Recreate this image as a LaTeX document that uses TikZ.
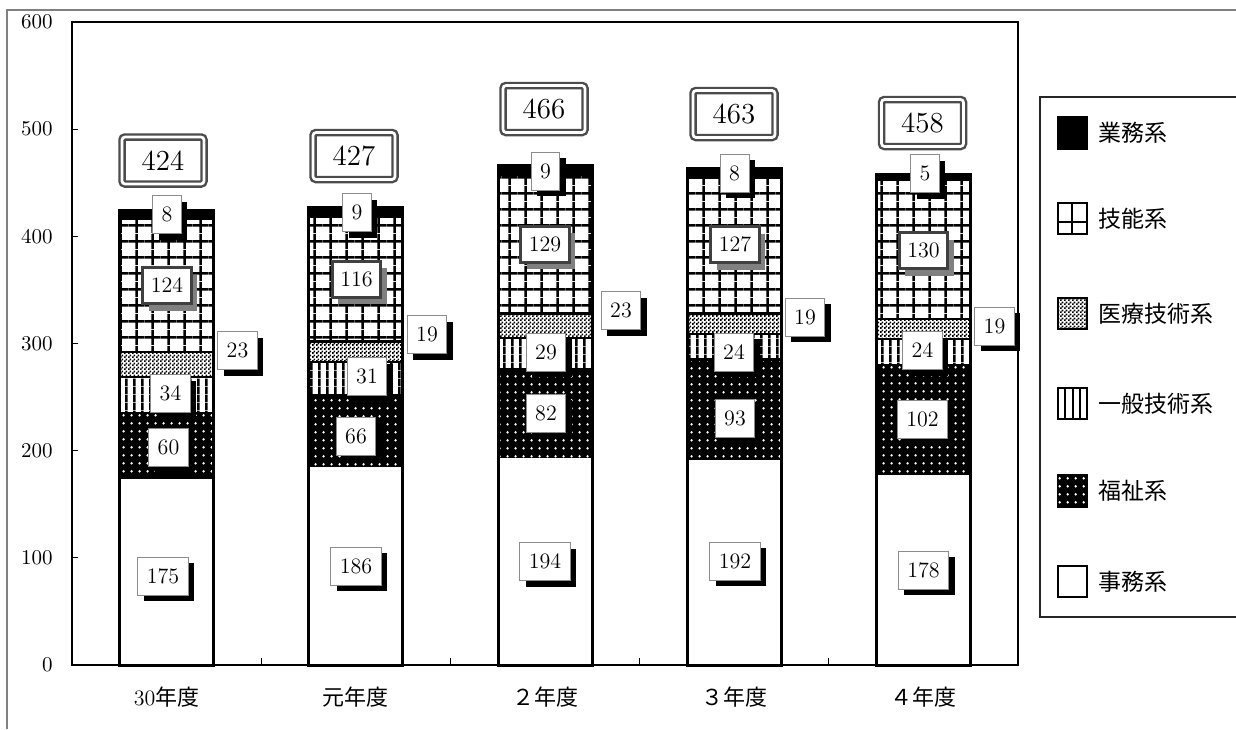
\documentclass[tikz,border=0pt]{standalone}
\usepackage{fontspec}
\newfontfamily\cjk{Noto Sans CJK JP}
\usetikzlibrary{patterns.meta,shadows}

\tikzdeclarepattern{
  name=skillgrid, type=uncolored,
  bounding box={(0pt,0pt) and (8.1pt,8pt)}, tile size={(8.1pt,8pt)},
  code={\draw[line width=1.25pt] (4pt,0pt) -- (4pt,8pt) (0pt,4pt) -- (8.1pt,4pt);}
}
\tikzdeclarepattern{
  name=vstripe, type=uncolored,
  bounding box={(0pt,0pt) and (4.2pt,4pt)}, tile size={(4.2pt,4pt)},
  code={\fill (0pt,0pt) rectangle (1.4pt,4pt);}
}
\tikzdeclarepattern{
  name=checker, type=uncolored,
  bounding box={(0pt,0pt) and (2pt,2pt)}, tile size={(2pt,2pt)},
  code={\fill (0pt,0pt) rectangle (1.05pt,1.05pt) (1pt,1pt) rectangle (2pt,2pt);}
}
\tikzdeclarepattern{
  name=wdots, type=uncolored,
  bounding box={(0pt,0pt) and (4pt,3.85pt)}, tile size={(4pt,3.85pt)},
  code={\fill (2pt,1.9pt) circle (0.72pt);}
}

\tikzset{
  seg/.style={draw=black, line width=1.2pt},
  jimu/.style={seg, fill=white},
  fukushi/.style={seg, fill=black, postaction={pattern=wdots, pattern color=white}},
  ippan/.style={seg, pattern=vstripe, pattern color=black},
  iryo/.style={seg, pattern=checker, pattern color=black},
  ginou/.style={seg, pattern=skillgrid, pattern color=black},
  gyomu/.style={seg, fill=black},
  labbase/.style={fill=white, font=\fontsize{11}{11}\selectfont, inner xsep=4.5pt, inner ysep=0pt, minimum height=19pt},
  lab/.style={labbase, draw=black!45, line width=0.4pt, general shadow={fill=black, shadow xshift=3pt, shadow yshift=-3pt}},
  glab/.style={labbase, draw=black!75, line width=1.5pt, inner xsep=4pt, minimum height=18pt, general shadow={fill=black!50, shadow xshift=3pt, shadow yshift=-3.5pt}},
  tot/.style={draw=black!70, double=white, double distance=1.35pt, line width=1.2pt, rounded corners=1.5pt, fill=white, font=\fontsize{14.5}{14.5}\selectfont, minimum width=41pt, minimum height=23.5pt, inner sep=0pt},
  ylab/.style={anchor=east, inner sep=0pt, font=\fontsize{10.5}{10.5}\selectfont},
  catlab/.style={inner sep=0pt, font=\fontsize{11}{11}\selectfont},
  legsym/.style={draw=black, line width=1.2pt, minimum width=14.5pt, minimum height=15.5pt, inner sep=0pt},
  legtxt/.style={anchor=west, inner sep=0pt, font=\cjk\fontsize{11.5}{11.5}\selectfont},
}

\begin{document}
\begin{tikzpicture}[x=0.5pt, y=-0.5pt]
\useasboundingbox (0,0) rectangle (1236,729);
\fill[white] (0,0) rectangle (1236,729);

% outer chart border
\draw[black!50, line width=0.75pt] (7,729) -- (7,10) -- (1236,10);

% bars
\foreach \cx/\va/\vb/\vc/\vd/\ve/\vf in {166.6/175/60/34/23/124/8, 355.8/186/66/31/19/116/9, 545/194/82/29/23/129/9, 734.2/192/93/24/19/127/8, 923.4/178/102/24/19/130/5}{
  \pgfmathsetmacro\ya{665-1.07167*\va}
  \pgfmathsetmacro\yb{\ya-1.07167*\vb}
  \pgfmathsetmacro\yc{\yb-1.07167*\vc}
  \pgfmathsetmacro\yd{\yc-1.07167*\vd}
  \pgfmathsetmacro\ye{\yd-1.07167*\ve}
  \pgfmathsetmacro\yf{\ye-1.07167*\vf}
  \pgfmathsetmacro\xl{\cx-47}
  \pgfmathsetmacro\xr{\cx+47}
  \path[jimu] (\xl,665) rectangle (\xr,\ya);
  \path[fukushi] (\xl,\ya) rectangle (\xr,\yb);
  \path[ippan] (\xl,\yb) rectangle (\xr,\yc);
  \path[iryo] (\xl,\yc) rectangle (\xr,\yd);
  \path[ginou] (\xl,\yd) rectangle (\xr,\ye);
  \path[gyomu] (\xl,\ye) rectangle (\xr,\yf);
  \draw[line width=1.5pt] (\xl,665) rectangle (\xr,\yf);
}

% plot frame and ticks
\draw[line width=1.1pt] (72,22) rectangle (1018,665);
\foreach \x in {261.2,450.4,639.6,828.8} \draw[line width=0.6pt] (\x,665) -- (\x,658);
\foreach \k in {1,...,5} \draw[line width=0.6pt] (72,665-107.167*\k) -- (78,665-107.167*\k);

% y axis labels
\foreach \k/\t in {0/0,1/100,2/200,3/300,4/400,5/500,6/600}
  \node[ylab] (y\k) at (53,665-107.167*\k) {\t};

% category labels
\node[catlab] (c1) at (166.6,697) {30{\cjk 年度}};
\node[catlab] (c2) at (355.8,697) {\cjk 元年度};
\node[catlab] (c3) at (545,697) {\cjk ２年度};
\node[catlab] (c4) at (734.2,697) {\cjk ３年度};
\node[catlab] (c5) at (923.4,697) {\cjk ４年度};

% 事務系 labels
\node[lab] (a1) at (163,576) {175};
\node[lab] (a2) at (356,566) {186};
\node[lab] (a3) at (545,561.5) {194};
\node[lab] (a4) at (735,561) {192};
\node[lab] (a5) at (923.5,570) {178};

% 福祉系 labels
\node[lab] (b1) at (168.5,447.5) {60};
\node[lab] (b2) at (356,436) {66};
\node[lab] (b3) at (546,413) {82};
\node[lab] (b4) at (735,418) {93};
\node[lab] (b5) at (922.5,419) {102};

% 一般技術系 labels
\node[lab] (d1) at (170.5,393.5) {34};
\node[lab] (d2) at (367,376.5) {31};
\node[lab] (d3) at (546,352) {29};
\node[lab] (d4) at (734,352) {24};
\node[lab] (d5) at (922.5,350.5) {24};

% 医療技術系 labels
\node[lab] (e1) at (237.5,350.5) {23};
\node[lab] (e2) at (427,334.5) {19};
\node[lab] (e3) at (621,310.5) {23};
\node[lab] (e4) at (805,317) {19};
\node[lab] (e5) at (994.5,326) {19};

% 技能系 labels
\node[glab] (f1) at (167,285.5) {124};
\node[glab] (f2) at (356.5,279) {116};
\node[glab] (f3) at (545,244) {129};
\node[glab] (f4) at (735,244.5) {127};
\node[glab] (f5) at (923.5,250.5) {130};

% 業務系 labels
\node[lab] (g1) at (167,214.5) {8};
\node[lab] (g2) at (357,212.5) {9};
\node[lab] (g3) at (545.5,171) {9};
\node[lab] (g4) at (734.5,173) {8};
\node[lab] (g5) at (925,173.5) {5};

% totals
\node[tot] (t1) at (163,160.5) {424};
\node[tot] (t2) at (354,156) {427};
\node[tot] (t3) at (544,109) {466};
\node[tot] (t4) at (734,114) {463};
\node[tot] (t5) at (922.5,123) {458};

% legend
\draw[black!85, line width=1pt] (1236,97) -- (1040,97) -- (1040,617) -- (1236,617);
\node[legsym, fill=black] (l1) at (1072.5,133) {};
\node[legtxt] (lt1) at (1098,133) {業務系};
\node[legsym, fill=white] (l2) at (1072.5,218.5) {};
\draw[line width=1pt] ([xshift=-0.5pt]l2.north) -- ([xshift=-0.5pt]l2.south);
\draw[line width=1pt] ([yshift=-1.5pt]l2.west) -- ([yshift=-1.5pt]l2.east);
\node[legtxt] (lt2) at (1098,218.5) {技能系};
\node[legsym, pattern=checker, pattern color=black] (l3) at (1072.5,313.5) {};
\node[legtxt] (lt3) at (1098,313.5) {医療技術系};
\node[legsym, fill=white] (l4) at (1072.5,403.5) {};
\foreach \s in {-3.6,0,3.6} \draw[line width=1pt] ([xshift=\s pt]l4.north) -- ([xshift=\s pt]l4.south);
\node[legtxt] (lt4) at (1098,403.5) {一般技術系};
\node[legsym, fill=black, postaction={pattern=wdots, pattern color=white}] (l5) at (1072.5,491) {};
\node[legtxt] (lt5) at (1098,491) {福祉系};
\node[legsym, fill=white] (l6) at (1072.5,581.5) {};
\node[legtxt] (lt6) at (1098,581.5) {事務系};
\end{tikzpicture}
\end{document}
